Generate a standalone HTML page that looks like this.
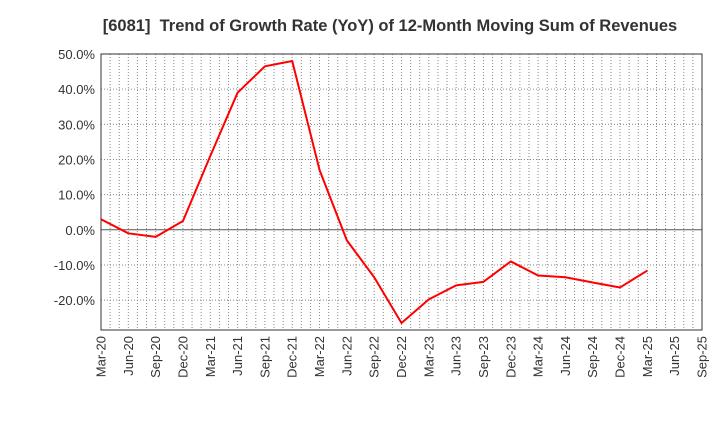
<!DOCTYPE html>
<html><head><meta charset="utf-8"><style>body{margin:0;background:#fff}svg{display:block;font-family:"Liberation Sans",sans-serif}</style></head>
<body>
<svg id="c" width="720" height="440">
<text x="390" y="31" text-anchor="middle" font-size="16.5" font-weight="bold" fill="#333" xml:space="preserve">[6081]  Trend of Growth Rate (YoY) of 12-Month Moving Sum of Revenues</text>
</svg>
<script>
const xLabels=["Mar-20","Jun-20","Sep-20","Dec-20","Mar-21","Jun-21","Sep-21","Dec-21","Mar-22","Jun-22","Sep-22","Dec-22","Mar-23","Jun-23","Sep-23","Dec-23","Mar-24","Jun-24","Sep-24","Dec-24","Mar-25","Jun-25","Sep-25"];
const yTicks=[50,40,30,20,10,0,-10,-20];
const values=[3,-1,-2,2.5,21,39,46.5,48,17,-3,-13.5,-26.5,-19.8,-15.8,-14.8,-9,-13,-13.5,-15,-16.4,-11.6];
const L=101,R=702,T=54,B=330,yMax=50,yMin=-28.5;
const X=i=>L+(R-L)*i/(xLabels.length-1);
const Y=v=>T+(yMax-v)*(B-T)/(yMax-yMin);
const s=document.getElementById('c'),NS='http://www.w3.org/2000/svg';
function mk(t,a,p){const e=document.createElementNS(NS,t);for(const k in a)e.setAttribute(k,a[k]);(p||s).appendChild(e);return e;}
const g=mk('g',{});


const months=(xLabels.length-1)*3;
for(let m=1;m<months;m++){const x=L+(R-L)*m/months;mk('line',{x1:x,x2:x,y1:T,y2:B,stroke:'#888','stroke-dasharray':'1,2','stroke-width':1},g);}
yTicks.forEach(v=>{const y=Y(v);
 if(v!==0&&v!==yMax)mk('line',{x1:L,x2:R,y1:y,y2:y,stroke:'#888','stroke-dasharray':'1,2'},g);
 const t=mk('text',{x:L-6,y:y+5,'text-anchor':'end','font-size':13,fill:'#333'});t.textContent=v.toFixed(1)+'%';
 
 
});
const z=mk('line',{x1:L,x2:R,y1:Y(0),y2:Y(0),stroke:'#555','stroke-width':1});


const f=mk('rect',{x:L,y:T,width:R-L,height:B-T,fill:'none',stroke:'#333'});


xLabels.forEach((l,i)=>{const x=X(i);const t=mk('text',{transform:`translate(${x+4.5},${B+6}) rotate(-90)`,'text-anchor':'end','font-size':13,fill:'#333'});t.textContent=l;
 
 
});
const ln=mk('polyline',{points:values.map((v,i)=>X(i)+','+Y(v)).join(' '),fill:'none',stroke:'#f00','stroke-width':2,'stroke-linejoin':'round'});


</script>
</body></html>
